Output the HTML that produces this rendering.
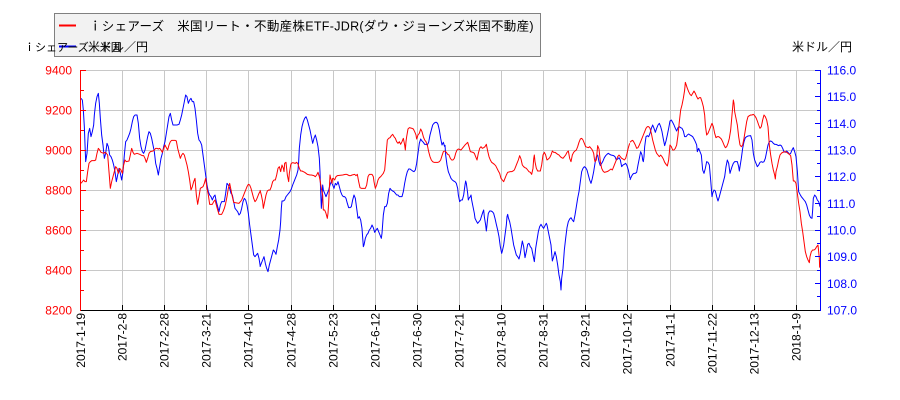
<!DOCTYPE html>
<html><head><meta charset="utf-8">
<style>
html,body{margin:0;padding:0;background:#fff;}
svg{display:block;}
text{font-family:"Liberation Sans","Noto Sans CJK JP",sans-serif;}
</style></head>
<body>
<svg width="900" height="400" viewBox="0 0 900 400" xmlns="http://www.w3.org/2000/svg">
<rect width="900" height="400" fill="#fff"/>
<!-- grid -->
<g stroke="#c8c8c8" stroke-width="1" shape-rendering="crispEdges">
<line x1="80" y1="70.5" x2="820" y2="70.5"/>
<line x1="80" y1="110.5" x2="820" y2="110.5"/>
<line x1="80" y1="150.5" x2="820" y2="150.5"/>
<line x1="80" y1="190.5" x2="820" y2="190.5"/>
<line x1="80" y1="230.5" x2="820" y2="230.5"/>
<line x1="80" y1="270.5" x2="820" y2="270.5"/>
<line x1="122.5" y1="70" x2="122.5" y2="310"/>
<line x1="164.5" y1="70" x2="164.5" y2="310"/>
<line x1="206.5" y1="70" x2="206.5" y2="310"/>
<line x1="248.5" y1="70" x2="248.5" y2="310"/>
<line x1="291.5" y1="70" x2="291.5" y2="310"/>
<line x1="333.5" y1="70" x2="333.5" y2="310"/>
<line x1="375.5" y1="70" x2="375.5" y2="310"/>
<line x1="417.5" y1="70" x2="417.5" y2="310"/>
<line x1="459.5" y1="70" x2="459.5" y2="310"/>
<line x1="501.5" y1="70" x2="501.5" y2="310"/>
<line x1="543.5" y1="70" x2="543.5" y2="310"/>
<line x1="585.5" y1="70" x2="585.5" y2="310"/>
<line x1="627.5" y1="70" x2="627.5" y2="310"/>
<line x1="670.5" y1="70" x2="670.5" y2="310"/>
<line x1="712.5" y1="70" x2="712.5" y2="310"/>
<line x1="754.5" y1="70" x2="754.5" y2="310"/>
<line x1="796.5" y1="70" x2="796.5" y2="310"/>
</g>

<!-- series -->
<g fill="none" stroke-width="1" stroke-linejoin="round">
<g transform="translate(75,65) scale(0.333333)">
<polyline vector-effect="non-scaling-stroke" stroke="#0000ff" points="18,100 22,105 25,135 28,185 32,290 36,265 40,205 44,190 48,215 52,200 56,180 58,150 62,115 66,95 70,85 73,115 76,160 80,210 84,240 88,280 92,265 96,235 100,245 104,270 108,275 112,285 116,300 120,320 124,350 128,330 132,310 136,325 140,345 144,320 148,270 152,230 156,225 160,215 164,205 168,190 172,170 176,155 180,150 186,150 190,175 194,220 198,245 202,260 206,265 210,255 214,235 218,215 222,200 226,205 230,220 234,240 238,260 242,295 246,310 250,330 254,305 258,280 262,265 266,245 270,230 274,205 278,180 282,155 286,145 290,165 294,180 300,180 306,180 312,178 316,165 320,150 324,130 328,110 332,90 336,95 340,115 344,105 348,100 352,110 356,110 360,130 364,165 368,205 372,225 376,230 380,240 384,270 388,300 392,330 396,360 400,380 404,390 408,395 412,405 416,395 420,390 424,410 428,425 432,440 436,420 440,410 444,410 448,410 452,385 456,355 460,360 464,370 468,385 472,390 476,410 480,430 484,435 488,440 492,450 496,445 500,430 504,410 508,400 512,405 516,420 520,445 524,480 528,510 532,540 536,570 540,575 544,570 548,565 552,580 556,605"/>
<polyline vector-effect="non-scaling-stroke" stroke="#ff0000" points="18,355 22,350 26,345 30,350 34,350 38,320 42,295 46,290 50,287 58,287 62,285 66,265 70,250 74,255 78,262 86,265 90,262 94,265 98,270 102,320 106,370 110,350 114,335 118,320 122,305 126,310 130,325 134,310 138,315 142,325 146,300 150,285 154,290 162,288 166,270 170,250 174,262 178,268 186,265 194,268 202,272 206,272 210,280 214,292 218,280 222,265 226,260 234,258 238,255 242,250 246,250 250,252 254,250 258,255 262,262 266,250 270,240 274,248 278,255 282,240 286,230 290,226 300,226 304,228 308,250 312,265 316,280 320,270 324,265 328,270 332,285 336,300 340,320 344,345 348,375 352,365 356,350 360,340 364,390 368,418 372,395 376,370 384,365 388,355 392,340 396,370 400,390 404,418 412,418 416,410 420,405 424,420 428,435 432,448 440,448 444,440 448,430 452,415 456,395 460,370 464,355 468,375 472,395 476,412 492,415 496,410 500,405 504,395 508,385 512,375 516,365 520,358 524,360 528,370 532,385 536,400 540,410 544,405 548,395 552,385 556,378"/>
</g>
<g transform="translate(260,65) scale(0.333333)">
<polyline vector-effect="non-scaling-stroke" stroke="#0000ff" points="0,605 4,595 8,585 12,575 16,595 20,610 24,620 28,600 32,585 36,570 40,555 44,560 48,568 52,545 56,525 60,495 62,470 64,430 66,408 70,408 74,405 78,395 82,390 86,385 90,380 94,372 98,360 102,350 106,340 110,330 114,315 116,290 118,250 122,210 126,185 130,170 134,160 138,155 142,165 146,180 150,195 154,215 158,235 162,220 166,210 170,225 174,245 178,280 180,320 182,380 184,430 186,405 188,360 190,375 194,385 198,395 202,385 206,375 210,360 214,350 218,360 222,370 226,355 230,360 234,350 238,365 242,380 246,390 250,395 254,395 258,400 262,415 266,428 270,428 274,425 278,405 282,390 286,400 290,430 294,460 298,455 302,465 306,490 310,545 312,540 316,520 320,510 324,505 328,495 332,490 336,480 340,488 344,502 348,495 352,490 356,500 360,510 364,520 366,505 370,450 374,425 378,425 382,415 386,385 390,370 394,375 398,378 402,380 406,385 410,390 414,390 418,395 426,395 430,380 434,355 438,335 442,320 446,312 450,312 454,315 458,318 462,320 466,315 470,295 474,265 478,235 482,222 486,228 490,232 494,238 498,238 502,240 506,232 510,210 514,195 518,180 522,175 526,172 530,172 534,178 538,195 542,220 546,240 550,232 554,245"/>
<polyline vector-effect="non-scaling-stroke" stroke="#ff0000" points="0,375 4,390 8,410 10,430 14,410 18,390 22,378 26,375 30,375 34,365 38,350 42,345 46,345 50,330 54,310 58,305 62,320 66,300 70,310 72,320 74,295 78,292 82,330 86,350 88,325 92,300 94,295 98,293 106,295 110,292 114,297 118,310 122,318 126,318 130,320 134,322 138,325 142,328 150,330 154,330 162,332 166,335 170,330 174,322 178,335 180,345 184,370 188,390 190,435 194,435 198,445 202,460 204,445 206,415 208,370 210,330 212,340 214,345 216,355 218,340 220,340 224,345 228,335 232,332 248,330 256,328 260,328 264,330 268,332 272,332 276,330 284,328 288,332 292,328 296,350 300,368 304,370 316,370 320,360 324,335 328,328 336,328 340,335 342,350 346,370 350,360 354,345 358,338 362,335 366,330 370,325 374,315 378,270 382,225 386,220 390,218 394,212 398,208 402,215 406,220 410,230 414,235 418,230 422,238 426,230 430,220 434,240 436,255 438,230 440,215 444,192 448,188 456,190 460,192 464,200 468,210 470,222 474,210 478,205 482,192 486,200 490,215 494,225 498,230 502,240 506,260 510,275 514,285 518,290 522,292 534,292 538,290 542,285 546,272 550,260 554,258"/>
</g>
<g transform="translate(445,65) scale(0.333333)">
<polyline vector-effect="non-scaling-stroke" stroke="#0000ff" points="0,240 2,270 6,300 10,320 14,330 18,340 22,345 26,348 30,350 34,355 38,370 40,390 42,400 44,410 48,405 52,405 56,390 58,375 60,360 62,348 64,355 66,370 68,385 70,405 72,400 76,395 78,390 80,405 84,425 88,445 90,460 94,468 98,475 102,470 106,465 110,452 114,440 116,435 118,455 122,480 124,498 126,480 128,460 130,445 134,438 138,438 142,440 146,445 150,460 154,478 158,495 162,515 166,545 170,565 172,558 176,540 180,510 184,480 186,455 188,448 190,458 194,470 198,490 202,515 206,540 210,555 214,570 218,575 222,582 226,565 230,540 232,528 236,545 240,578 244,560 248,538 252,535 256,545 260,550 264,570 268,590 270,570 272,550 276,525 280,500 284,485 288,478 292,485 296,490 300,482 304,475 306,480 310,500 314,520 318,540 320,565 322,588 326,575 330,560 334,575 338,600 342,630 346,650 348,675 350,640 354,610 358,555 362,520 366,488 370,470 374,462 378,458 382,465 386,470 390,450 394,425 398,400 402,380 406,350 410,320 414,310 418,305 422,308 426,315 430,330 434,345 438,355 442,340 446,320 450,295 454,275 458,270 462,290 466,302 470,295 474,288 478,278 482,272 486,268 490,265 494,268 498,270 506,272 510,275 514,285 518,282 522,278 526,285 530,305 534,300 538,298 542,295 546,302 550,315 555,340"/>
<polyline vector-effect="non-scaling-stroke" stroke="#ff0000" points="0,258 4,262 8,268 12,270 16,280 20,285 24,285 28,280 32,265 36,255 40,252 48,255 52,250 56,245 60,240 64,236 68,232 72,245 76,260 84,262 88,265 92,275 96,285 100,265 104,250 108,245 112,250 116,248 120,245 124,238 128,258 132,275 136,285 140,292 144,295 148,298 152,302 156,310 160,318 164,325 168,340 172,345 176,350 180,340 184,330 188,322 196,320 200,320 204,318 208,315 212,305 216,295 220,285 224,272 228,282 232,300 236,305 240,308 244,310 248,315 252,320 256,322 260,328 264,310 266,282 268,270 270,290 274,310 278,318 286,318 290,300 294,270 298,262 302,270 306,285 310,282 314,278 318,270 322,258 326,262 330,262 334,265 338,268 342,270 346,275 350,278 354,280 358,275 362,270 366,262 370,258 374,280 378,290 382,270 386,262 390,258 394,255 398,245 402,232 406,222 410,220 414,225 418,235 422,245 430,248 434,245 438,250 442,255 446,265 448,280 450,290 454,285 458,242 462,252 466,290 470,310 474,318 478,322 486,320 490,318 494,315 498,312 502,315 506,305 510,295 514,285 518,275 522,270 526,275 530,280 534,282 538,285 542,280 546,265 550,248 554,235"/>
</g>
<g transform="translate(630,65) scale(0.333333)">
<polyline vector-effect="non-scaling-stroke" stroke="#0000ff" points="0,345 4,335 8,328 12,325 16,325 20,322 24,300 28,280 32,260 36,270 38,285 40,290 42,275 44,245 48,215 52,212 56,215 60,205 64,190 68,180 72,190 76,202 80,190 84,180 88,175 92,185 96,200 100,222 104,242 108,228 112,210 116,190 120,168 124,165 128,172 132,180 136,190 140,198 144,188 148,185 152,188 156,190 160,198 164,215 168,215 172,210 176,207 180,210 184,212 188,215 192,222 196,230 200,240 202,260 206,250 210,260 214,270 218,315 222,325 226,310 230,290 234,292 238,300 242,345 246,395 248,385 252,375 256,378 260,395 264,408 268,395 272,380 276,365 280,350 284,335 288,305 292,285 296,295 300,325 302,318 306,305 310,295 314,290 322,290 326,305 328,318 330,305 334,280 338,250 342,230 346,218 350,215 354,213 362,212 366,225 370,265 374,285 378,295 382,305 386,300 390,292 394,290 398,292 402,290 406,280 410,260 414,240 418,230 422,228 426,230 430,235 434,238 438,238 442,240 446,242 450,240 454,242 458,250 462,260 466,262 470,258 474,262 478,268 482,265 486,255 490,248 494,260 498,275 502,318 506,380 510,388 514,395 518,400 522,405 526,410 530,420 534,435 538,450 542,458 546,460 548,435 550,400 554,390 558,395 562,405 566,410 570,425"/>
<polyline vector-effect="non-scaling-stroke" stroke="#ff0000" points="0,232 4,228 8,226 12,232 16,240 20,250 24,248 28,240 32,230 36,220 40,210 44,200 48,190 52,185 56,185 60,190 64,205 68,225 72,240 76,255 80,265 84,270 88,275 92,270 96,275 100,282 104,292 108,298 112,303 116,285 120,240 124,245 128,255 132,255 136,250 140,240 144,210 148,170 152,135 156,120 160,100 164,75 166,52 168,58 172,70 176,80 180,88 184,92 188,85 192,78 196,85 200,95 204,102 208,98 212,98 216,110 220,125 224,150 226,180 230,210 234,205 238,195 242,185 246,175 250,185 254,205 258,218 262,215 266,215 270,218 274,222 278,230 282,240 286,248 290,245 294,235 298,220 302,195 306,150 310,105 312,115 314,140 318,160 322,180 326,215 330,240 334,245 338,240 342,220 346,195 350,170 354,155 358,152 362,150 366,150 370,148 374,152 378,158 382,168 386,180 390,190 394,185 398,165 402,150 406,155 410,165 414,185 418,240 422,270 426,295 430,315 434,330 436,342 438,320 442,305 446,285 450,270 454,265 458,262 466,260 470,262 474,265 478,268 482,272 486,300 490,348 494,348 498,355 502,385 506,415 510,440 514,475 518,500 522,530 526,560 530,575 534,585 538,593 540,575 544,560 548,555 552,555 556,552 560,545 564,540 568,580 569,608"/>
</g>
</g>

<!-- axes -->
<g shape-rendering="crispEdges" stroke-width="1">
<line x1="80" y1="310.5" x2="821" y2="310.5" stroke="#000"/>
<line x1="80.5" y1="70" x2="80.5" y2="311" stroke="#ff0000"/>
<line x1="820.5" y1="70" x2="820.5" y2="311" stroke="#0000ff"/>
<g stroke="#ff0000">
<line x1="80" y1="70.5" x2="86" y2="70.5"/>
<line x1="80" y1="110.5" x2="86" y2="110.5"/>
<line x1="80" y1="150.5" x2="86" y2="150.5"/>
<line x1="80" y1="190.5" x2="86" y2="190.5"/>
<line x1="80" y1="230.5" x2="86" y2="230.5"/>
<line x1="80" y1="270.5" x2="86" y2="270.5"/>
<line x1="80" y1="90.5" x2="84" y2="90.5"/>
<line x1="80" y1="130.5" x2="84" y2="130.5"/>
<line x1="80" y1="170.5" x2="84" y2="170.5"/>
<line x1="80" y1="210.5" x2="84" y2="210.5"/>
<line x1="80" y1="250.5" x2="84" y2="250.5"/>
<line x1="80" y1="290.5" x2="84" y2="290.5"/>
</g>
<g stroke="#0000ff">
<line x1="815" y1="70.5" x2="821" y2="70.5"/>
<line x1="815" y1="96.5" x2="821" y2="96.5"/>
<line x1="815" y1="123.5" x2="821" y2="123.5"/>
<line x1="815" y1="150.5" x2="821" y2="150.5"/>
<line x1="815" y1="176.5" x2="821" y2="176.5"/>
<line x1="815" y1="203.5" x2="821" y2="203.5"/>
<line x1="815" y1="230.5" x2="821" y2="230.5"/>
<line x1="815" y1="256.5" x2="821" y2="256.5"/>
<line x1="815" y1="283.5" x2="821" y2="283.5"/>
<line x1="817" y1="83.5" x2="821" y2="83.5"/>
<line x1="817" y1="110.5" x2="821" y2="110.5"/>
<line x1="817" y1="136.5" x2="821" y2="136.5"/>
<line x1="817" y1="163.5" x2="821" y2="163.5"/>
<line x1="817" y1="190.5" x2="821" y2="190.5"/>
<line x1="817" y1="216.5" x2="821" y2="216.5"/>
<line x1="817" y1="243.5" x2="821" y2="243.5"/>
<line x1="817" y1="270.5" x2="821" y2="270.5"/>
<line x1="817" y1="296.5" x2="821" y2="296.5"/>
</g>
<g stroke="#000">
<line x1="122.5" y1="305" x2="122.5" y2="310"/>
<line x1="164.5" y1="305" x2="164.5" y2="310"/>
<line x1="206.5" y1="305" x2="206.5" y2="310"/>
<line x1="248.5" y1="305" x2="248.5" y2="310"/>
<line x1="291.5" y1="305" x2="291.5" y2="310"/>
<line x1="333.5" y1="305" x2="333.5" y2="310"/>
<line x1="375.5" y1="305" x2="375.5" y2="310"/>
<line x1="417.5" y1="305" x2="417.5" y2="310"/>
<line x1="459.5" y1="305" x2="459.5" y2="310"/>
<line x1="501.5" y1="305" x2="501.5" y2="310"/>
<line x1="543.5" y1="305" x2="543.5" y2="310"/>
<line x1="585.5" y1="305" x2="585.5" y2="310"/>
<line x1="627.5" y1="305" x2="627.5" y2="310"/>
<line x1="670.5" y1="305" x2="670.5" y2="310"/>
<line x1="712.5" y1="305" x2="712.5" y2="310"/>
<line x1="754.5" y1="305" x2="754.5" y2="310"/>
<line x1="796.5" y1="305" x2="796.5" y2="310"/>
</g>
</g>

<!-- left tick labels -->
<g font-size="12" fill="#ff0000" text-anchor="end">
<text x="72" y="74.5">9400</text>
<text x="72" y="114.5">9200</text>
<text x="72" y="154.5">9000</text>
<text x="72" y="194.5">8800</text>
<text x="72" y="234.5">8600</text>
<text x="72" y="274.5">8400</text>
<text x="72" y="314.5">8200</text>
</g>
<!-- right tick labels -->
<g font-size="12" fill="#0000ff">
<text x="827" y="74.5">116.0</text>
<text x="827" y="101">115.0</text>
<text x="827" y="128">114.0</text>
<text x="827" y="154.5">113.0</text>
<text x="827" y="181">112.0</text>
<text x="827" y="208">111.0</text>
<text x="827" y="234.5">110.0</text>
<text x="827" y="261">109.0</text>
<text x="827" y="288">108.0</text>
<text x="827" y="314.5">107.0</text>
</g>
<!-- x tick labels -->
<g font-size="12" fill="#000" text-anchor="end">
<text transform="translate(85,313) rotate(-90)">2017-1-19</text>
<text transform="translate(126.5,313) rotate(-90)">2017-2-8</text>
<text transform="translate(168.5,313) rotate(-90)">2017-2-28</text>
<text transform="translate(210.5,313) rotate(-90)">2017-3-21</text>
<text transform="translate(252.5,313) rotate(-90)">2017-4-10</text>
<text transform="translate(295.5,313) rotate(-90)">2017-4-28</text>
<text transform="translate(337.5,313) rotate(-90)">2017-5-23</text>
<text transform="translate(379.5,313) rotate(-90)">2017-6-12</text>
<text transform="translate(421.5,313) rotate(-90)">2017-6-30</text>
<text transform="translate(463.5,313) rotate(-90)">2017-7-21</text>
<text transform="translate(505.5,313) rotate(-90)">2017-8-10</text>
<text transform="translate(547.5,313) rotate(-90)">2017-8-31</text>
<text transform="translate(589.5,313) rotate(-90)">2017-9-21</text>
<text transform="translate(631.5,313) rotate(-90)">2017-10-12</text>
<text transform="translate(674.5,313) rotate(-90)">2017-11-1</text>
<text transform="translate(716.5,313) rotate(-90)">2017-11-22</text>
<text transform="translate(758.5,313) rotate(-90)">2017-12-13</text>
<text transform="translate(800.5,313) rotate(-90)">2018-1-9</text>
</g>

<!-- legend -->
<rect x="54.5" y="13.5" width="486" height="43" fill="#f2f2f2" stroke="#808080" stroke-width="1"/>
<line x1="59" y1="25.5" x2="76" y2="25.5" stroke="#ff0000" stroke-width="2"/>
<line x1="59" y1="46.5" x2="76" y2="46.5" stroke="#0000ff" stroke-width="2"/>
<text x="89" y="30.5" font-size="12.5" fill="#000" letter-spacing="0.3">ｉシェアーズ　米国リート・不動産株ETF-JDR(ダウ・ジョーンズ米国不動産)</text>
<text x="88" y="51" font-size="12" fill="#000">米ドル／円</text>
<!-- axis titles -->
<text x="24" y="51" font-size="11" fill="#000">ｉシェアーズ　米国</text>
<text x="792" y="51" font-size="12" fill="#000">米ドル／円</text>
</svg>
</body></html>
